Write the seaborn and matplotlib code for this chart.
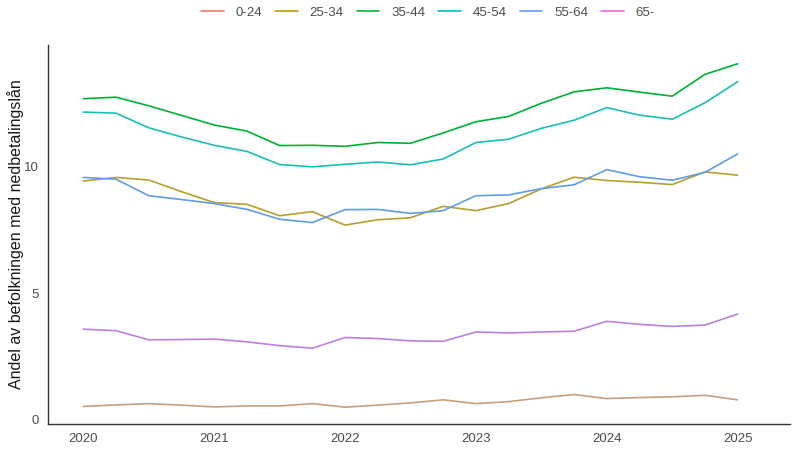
import numpy as np
import pandas as pd
import seaborn as sns
import matplotlib.pyplot as plt

# quarters 2020 Q1 .. 2025 Q1
quarters = [2020 + i * 0.25 for i in range(21)]

groups = ["0-24", "25-34", "35-44", "45-54", "55-64", "65-"]

share_0_24 = [0.53, 0.59, 0.64, 0.58, 0.51, 0.55, 0.55, 0.64, 0.50, 0.58, 0.67,
              0.79, 0.64, 0.72, 0.87, 1.00, 0.84, 0.88, 0.91, 0.97, 0.79]
share_25_34 = [9.43, 9.57, 9.47, 9.01, 8.58, 8.51, 8.06, 8.22, 7.69, 7.90, 7.98,
               8.43, 8.26, 8.54, 9.12, 9.58, 9.45, 9.38, 9.29, 9.79, 9.66]
share_35_44 = [12.68, 12.74, 12.40, 12.02, 11.64, 11.40, 10.83, 10.84, 10.80, 10.95, 10.92,
               11.33, 11.77, 11.98, 12.50, 12.95, 13.11, 12.94, 12.78, 13.64, 14.06]
share_45_54 = [12.15, 12.11, 11.53, 11.17, 10.84, 10.60, 10.08, 9.99, 10.09, 10.18, 10.07,
               10.30, 10.95, 11.08, 11.51, 11.83, 12.33, 12.03, 11.87, 12.52, 13.35]
share_55_64 = [9.57, 9.50, 8.85, 8.70, 8.54, 8.31, 7.92, 7.79, 8.30, 8.31, 8.15,
               8.26, 8.85, 8.88, 9.13, 9.28, 9.88, 9.60, 9.46, 9.77, 10.50]
share_65 = [3.58, 3.52, 3.16, 3.17, 3.19, 3.08, 2.93, 2.83, 3.25, 3.21, 3.12,
            3.10, 3.47, 3.43, 3.47, 3.50, 3.89, 3.77, 3.69, 3.74, 4.18]

series = [share_0_24, share_25_34, share_35_44, share_45_54, share_55_64, share_65]

df = pd.DataFrame({
    "kvartal": np.tile(quarters, len(groups)),
    "andel": np.concatenate(series),
    "alder": np.repeat(groups, len(quarters)),
})

# line colours as they appear in the plot
line_colors = {"0-24": "#C9A07E", "25-34": "#B79F2E", "35-44": "#00B035",
               "45-54": "#1ABFB6", "55-64": "#619CE8", "65-": "#BE80E0"}
# legend keys
legend_colors = {"0-24": "#F8766D", "25-34": "#B79F00", "35-44": "#00BA38",
                 "45-54": "#00BFC4", "55-64": "#619CFF", "65-": "#F564E3"}

sns.set_style("white")
plt.rcParams["font.family"] = ["Liberation Sans", "DejaVu Sans"]

fig = plt.figure(figsize=(8, 4.5), dpi=100)
ax = fig.add_axes([0.06, 0.058, 0.9275, 0.842])

sns.lineplot(data=df, x="kvartal", y="andel", hue="alder", hue_order=groups,
             palette=line_colors, linewidth=1.2, ax=ax, legend=False)

ax.set_xlim(2019.73, 2025.4)
ax.set_ylim(-0.16, 14.8)
ax.set_xticks([2020, 2021, 2022, 2023, 2024, 2025])
ax.set_yticks([0, 5, 10])
ax.set_xlabel("")
ax.set_ylabel("Andel av befolkningen med nedbetalingslån", fontsize=11.5, color="#1A1A1A")
ax.yaxis.set_label_coords(-0.033, 0.5)

for side in ["top", "right"]:
    ax.spines[side].set_visible(False)
for side in ["left", "bottom"]:
    ax.spines[side].set_color("#333333")
    ax.spines[side].set_linewidth(1.0)
ax.tick_params(axis="both", direction="out", length=4, width=0.9, color="#333333",
               labelcolor="#4D4D4D", labelsize=9.5, pad=2.5)

handles = [plt.Line2D([], [], color=legend_colors[g], lw=1.2) for g in groups]
fig.legend(handles, groups, loc="upper center", bbox_to_anchor=(0.535, 1.012), ncol=6,
           frameon=False, fontsize=9.5, handlelength=1.7, handletextpad=0.9,
           columnspacing=1.0, labelcolor="#4D4D4D")

fig.savefig("out.png", dpi=100)
